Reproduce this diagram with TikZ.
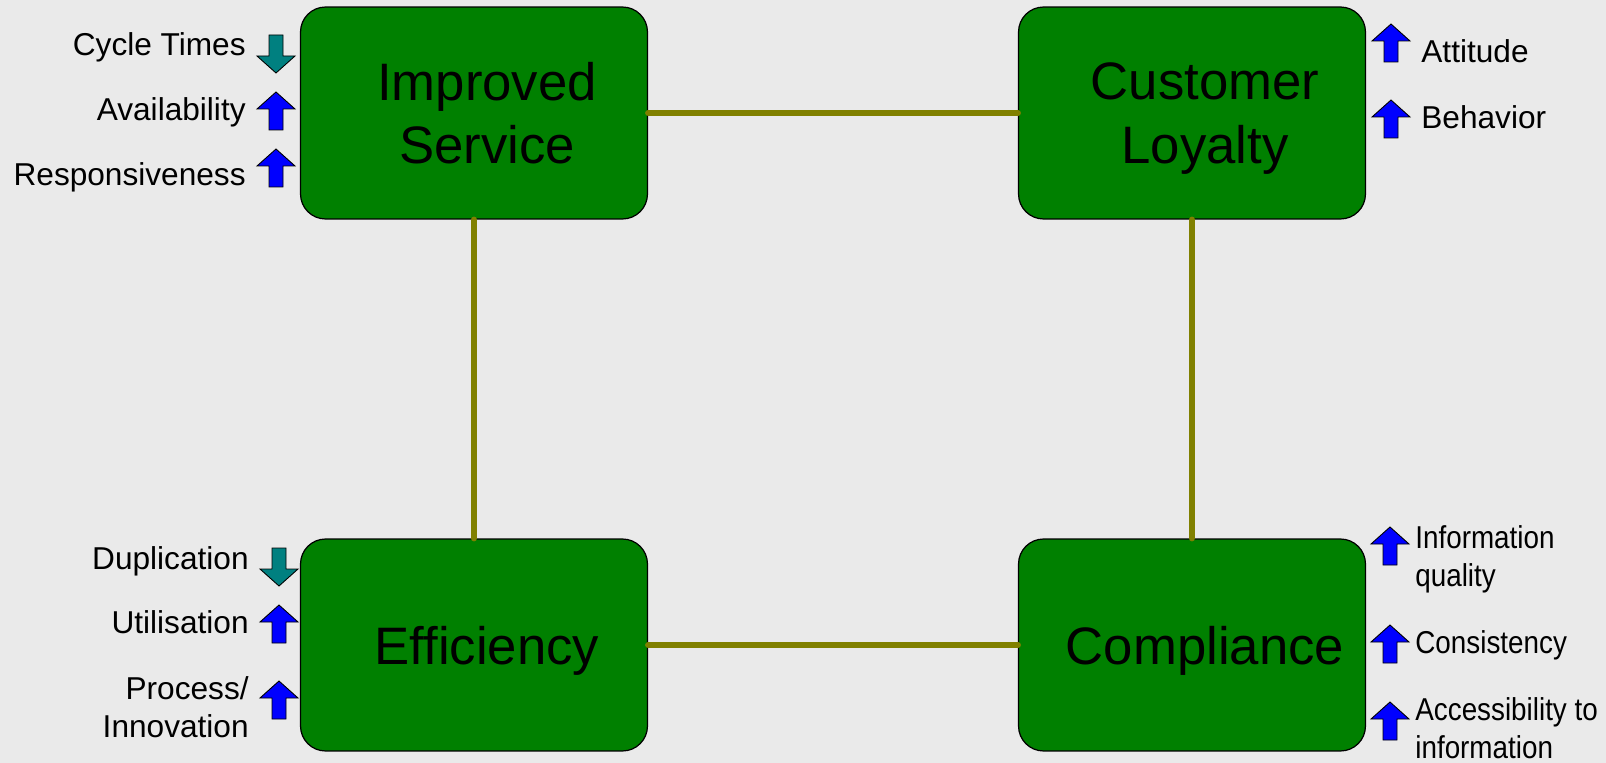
\documentclass[tikz,border=0pt]{standalone}
\usepackage{fontspec}
\setmainfont{Liberation Sans}
\newfontfamily\narrowsans[FakeStretch=0.88]{Liberation Sans}
\definecolor{bggrey}{HTML}{EAEAEA}
\definecolor{boxgreen}{HTML}{008000}
\definecolor{linkolive}{HTML}{808000}
\definecolor{upblue}{HTML}{0000FF}
\definecolor{downteal}{HTML}{008080}
\newcommand{\boxpad}{\hspace*{0.52cm}}
\begin{document}
\begin{tikzpicture}[
        x=0.02cm, y=-0.02cm,
        box/.style={draw=black, line width=0.7pt, fill=boxgreen, rounded corners=0.5cm,
            minimum width=6.94cm, minimum height=4.24cm, align=center, text depth=0pt,
            font=\fontsize{30}{36}\selectfont},
        link/.style={draw=linkolive, line width=3.4pt, line cap=round},
        lbl/.style={inner sep=0pt, font=\fontsize{18}{21.5}\selectfont},
        lbll/.style={lbl, anchor=base east, align=right},
        lblr/.style={lbl, anchor=base west, align=left},
        lbln/.style={lblr, font=\narrowsans\fontsize{18}{21.5}\selectfont},
        uparr/.pic={\filldraw[fill=upblue, draw=black, line width=0.5pt]
            (-7,19) -- (-7,-2) -- (-19,-2) -- (0,-19) -- (19,-2) -- (7,-2) -- (7,19) -- cycle;},
        dnarr/.pic={\filldraw[fill=downteal, draw=black, line width=0.5pt]
            (-7,-19) -- (-7,2) -- (-19,2) -- (0,19) -- (19,2) -- (7,2) -- (7,-19) -- cycle;}
    ]

    % background
    \fill[bggrey] (0,0) rectangle (1606,763);
    \useasboundingbox (0,0) rectangle (1606,763);

    % the four boxes
    \node[box] (service) at (474,113) {\boxpad Improved\\\boxpad Service};
    \node[box] (loyalty) at (1192,113) {\boxpad Customer\\\boxpad Loyalty};
    \node[box] (effic) at (474,645) {\boxpad Efficiency};
    \node[box] (compl) at (1192,645) {\boxpad Compliance};

    % links between boxes
    \draw[link] (service.east) -- (loyalty.west);
    \draw[link] (effic.east) -- (compl.west);
    \draw[link] (service.south) -- (effic.north);
    \draw[link] (loyalty.south) -- (compl.north);

    % Improved Service
    \node[lbll] (cycle) at (246,56) {Cycle Times};
    \node[lbll] (avail) at (246,121) {Availability};
    \node[lbll] (respo) at (246,186) {Responsiveness};
    \pic at (276,54) {dnarr};
    \pic at (276,111) {uparr};
    \pic at (276,168) {uparr};

    % Efficiency (base of a two-line text = its last line)
    \node[lbll] (dupl) at (249,569) {Duplication};
    \node[lbll] (util) at (249,633) {Utilisation};
    \node[lbll] (proc) at (249,737) {Process/\\Innovation};
    \pic at (279,567) {dnarr};
    \pic at (279,624) {uparr};
    \pic at (279,700) {uparr};

    % Customer Loyalty
    \node[lblr] (attit) at (1421,63) {Attitude};
    \node[lblr] (behav) at (1421,129) {Behavior};
    \pic at (1391,43) {uparr};
    \pic at (1391,119) {uparr};

    % Compliance
    \node[lbln] (infoq) at (1415,586) {Information\\quality};
    \node[lbln] (consi) at (1415,653) {Consistency};
    \node[lbln] (acces) at (1415,758) {Accessibility to\\information};
    \pic at (1390,546) {uparr};
    \pic at (1390,644) {uparr};
    \pic at (1390,721) {uparr};

\end{tikzpicture}
\end{document}
